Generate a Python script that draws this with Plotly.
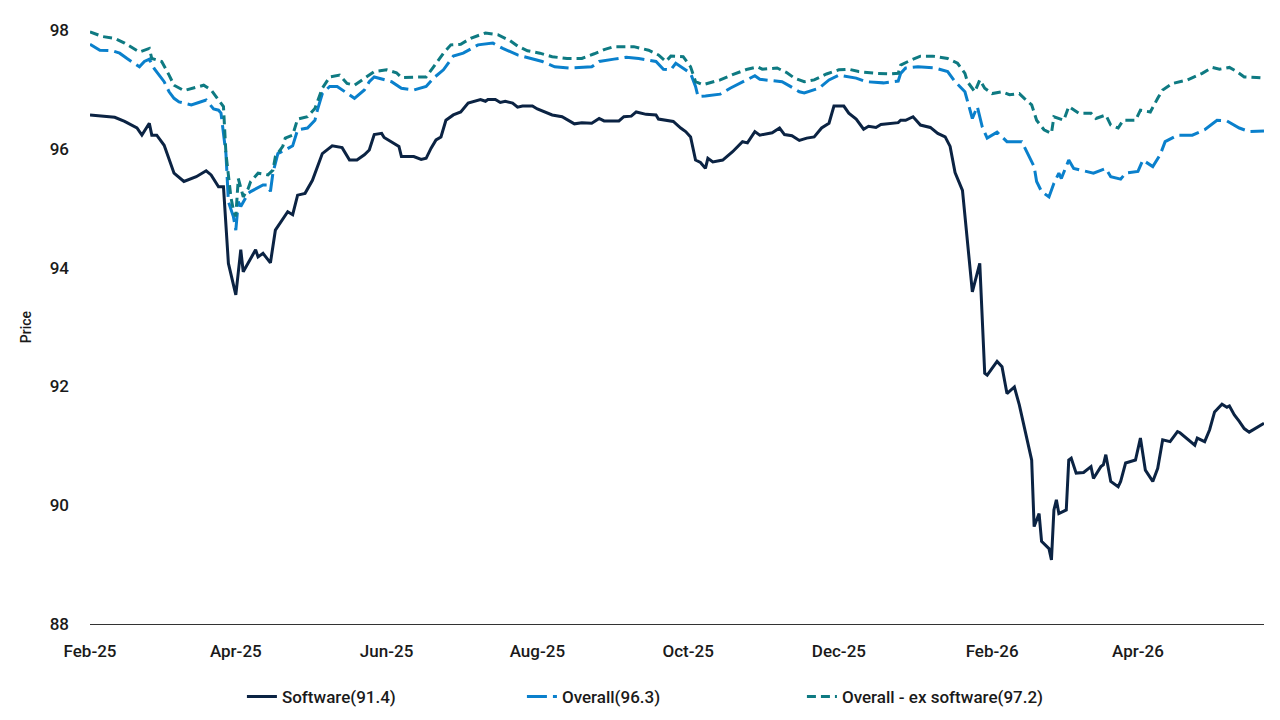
import plotly.graph_objects as go

# ---------------- data ----------------
software_dates = [
    "2025-02-01", "2025-02-07", "2025-02-11", "2025-02-15", "2025-02-20", "2025-02-22", "2025-02-25",
    "2025-02-26", "2025-02-28", "2025-03-03", "2025-03-05", "2025-03-07", "2025-03-11", "2025-03-14",
    "2025-03-16", "2025-03-20", "2025-03-22", "2025-03-25", "2025-03-27", "2025-03-29", "2025-04-01",
    "2025-04-03", "2025-04-04", "2025-04-09", "2025-04-10", "2025-04-12", "2025-04-15", "2025-04-17",
    "2025-04-22", "2025-04-24", "2025-04-26", "2025-04-29", "2025-05-02", "2025-05-06", "2025-05-10",
    "2025-05-14", "2025-05-17", "2025-05-20", "2025-05-23", "2025-05-25", "2025-05-27", "2025-05-30",
    "2025-05-31", "2025-06-06", "2025-06-07", "2025-06-12", "2025-06-15", "2025-06-17", "2025-06-19",
    "2025-06-21", "2025-06-23", "2025-06-25", "2025-06-28", "2025-07-01", "2025-07-04", "2025-07-09",
    "2025-07-11", "2025-07-12", "2025-07-15", "2025-07-17", "2025-07-19", "2025-07-22", "2025-07-24",
    "2025-07-26", "2025-07-30", "2025-08-01", "2025-08-03", "2025-08-07", "2025-08-11", "2025-08-16",
    "2025-08-19", "2025-08-23", "2025-08-26", "2025-08-28", "2025-09-03", "2025-09-05", "2025-09-08",
    "2025-09-10", "2025-09-14", "2025-09-18", "2025-09-19", "2025-09-22", "2025-09-25", "2025-09-28",
    "2025-09-30", "2025-10-02", "2025-10-04", "2025-10-06", "2025-10-08", "2025-10-09", "2025-10-11",
    "2025-10-15", "2025-10-19", "2025-10-23", "2025-10-25", "2025-10-28", "2025-10-30", "2025-11-04",
    "2025-11-07", "2025-11-09", "2025-11-12", "2025-11-15", "2025-11-18", "2025-11-21", "2025-11-24",
    "2025-11-27", "2025-11-29", "2025-12-03", "2025-12-05", "2025-12-08", "2025-12-11", "2025-12-13",
    "2025-12-16", "2025-12-18", "2025-12-22", "2025-12-25", "2025-12-26", "2025-12-28", "2025-12-31",
    "2026-01-03", "2026-01-07", "2026-01-10", "2026-01-13", "2026-01-15", "2026-01-17", "2026-01-20",
    "2026-01-24", "2026-01-27", "2026-01-29", "2026-01-30", "2026-02-03", "2026-02-05", "2026-02-07",
    "2026-02-10", "2026-02-12", "2026-02-17", "2026-02-18", "2026-02-20", "2026-02-21", "2026-02-24",
    "2026-02-25", "2026-02-26", "2026-02-27", "2026-02-28", "2026-03-03", "2026-03-04", "2026-03-05",
    "2026-03-07", "2026-03-10", "2026-03-13", "2026-03-14", "2026-03-17", "2026-03-18", "2026-03-19",
    "2026-03-21", "2026-03-24", "2026-03-25", "2026-03-27", "2026-03-31", "2026-04-02", "2026-04-04",
    "2026-04-07", "2026-04-09", "2026-04-11", "2026-04-14", "2026-04-17", "2026-04-18", "2026-04-22",
    "2026-04-24", "2026-04-25", "2026-04-28", "2026-04-30", "2026-05-02", "2026-05-05", "2026-05-07",
    "2026-05-08", "2026-05-10", "2026-05-12", "2026-05-14", "2026-05-16", "2026-05-22",
]
software_values = [
    96.57, 96.54, 96.53, 96.46, 96.35, 96.23, 96.43,
    96.23, 96.23, 96.06, 95.84, 95.59, 95.45, 95.50,
    95.53, 95.63, 95.56, 95.36, 95.36, 94.07, 93.54,
    94.30, 93.93, 94.30, 94.18, 94.24, 94.08, 94.63,
    94.94, 94.89, 95.22, 95.25, 95.47, 95.92, 96.05,
    96.02, 95.81, 95.81, 95.90, 95.98, 96.24, 96.26,
    96.19, 96.04, 95.87, 95.87, 95.82, 95.84, 96.01,
    96.15, 96.20, 96.48, 96.57, 96.62, 96.77, 96.83,
    96.80, 96.83, 96.83, 96.78, 96.80, 96.77, 96.70,
    96.72, 96.72, 96.67, 96.64, 96.57, 96.54, 96.42,
    96.44, 96.43, 96.51, 96.47, 96.47, 96.54, 96.55,
    96.62, 96.58, 96.57, 96.50, 96.48, 96.46, 96.35,
    96.29, 96.20, 95.81, 95.77, 95.67, 95.84, 95.78,
    95.81, 95.95, 96.12, 96.10, 96.29, 96.23, 96.27,
    96.35, 96.24, 96.22, 96.14, 96.18, 96.20, 96.35,
    96.43, 96.72, 96.72, 96.60, 96.50, 96.33, 96.38,
    96.36, 96.41, 96.42, 96.44, 96.48, 96.48, 96.54,
    96.40, 96.36, 96.26, 96.20, 96.04, 95.60, 95.30,
    93.59, 94.07, 92.22, 92.19, 92.42, 92.33, 91.88,
    91.99, 91.69, 90.76, 89.64, 89.86, 89.39, 89.27,
    89.08, 89.92, 90.09, 89.86, 89.92, 90.76, 90.79,
    90.54, 90.55, 90.65, 90.45, 90.65, 90.68, 90.85,
    90.40, 90.31, 90.40, 90.71, 90.76, 91.13, 90.59,
    90.40, 90.62, 91.10, 91.07, 91.24, 91.22, 91.07,
    91.01, 91.13, 91.07, 91.27, 91.57, 91.70, 91.65,
    91.67, 91.52, 91.41, 91.29, 91.23, 91.38,
]

overall_dates = [
    "2025-02-01", "2025-02-05", "2025-02-10", "2025-02-13", "2025-02-16", "2025-02-21", "2025-02-23",
    "2025-02-25", "2025-02-27", "2025-03-03", "2025-03-05", "2025-03-07", "2025-03-09", "2025-03-14",
    "2025-03-17", "2025-03-20", "2025-03-23", "2025-03-25", "2025-03-26", "2025-03-28", "2025-03-29",
    "2025-03-31", "2025-04-01", "2025-04-02", "2025-04-03", "2025-04-05", "2025-04-06", "2025-04-07",
    "2025-04-12", "2025-04-14", "2025-04-15", "2025-04-16", "2025-04-18", "2025-04-21", "2025-04-24",
    "2025-04-26", "2025-04-30", "2025-05-03", "2025-05-04", "2025-05-06", "2025-05-09", "2025-05-12",
    "2025-05-14", "2025-05-19", "2025-05-23", "2025-05-25", "2025-05-27", "2025-05-31", "2025-06-03",
    "2025-06-07", "2025-06-12", "2025-06-17", "2025-06-20", "2025-06-24", "2025-06-28", "2025-07-02",
    "2025-07-08", "2025-07-14", "2025-07-18", "2025-07-24", "2025-07-30", "2025-08-03", "2025-08-08",
    "2025-08-14", "2025-08-23", "2025-08-26", "2025-09-01", "2025-09-06", "2025-09-11", "2025-09-18",
    "2025-09-21", "2025-09-24", "2025-09-26", "2025-10-02", "2025-10-04", "2025-10-05", "2025-10-08",
    "2025-10-14", "2025-10-18", "2025-10-23", "2025-10-28", "2025-10-30", "2025-11-02", "2025-11-08",
    "2025-11-11", "2025-11-15", "2025-11-17", "2025-11-23", "2025-11-27", "2025-12-01", "2025-12-08",
    "2025-12-12", "2025-12-19", "2025-12-25", "2025-12-26", "2025-12-28", "2026-01-02", "2026-01-09",
    "2026-01-14", "2026-01-17", "2026-01-21", "2026-01-23", "2026-01-24", "2026-01-26", "2026-01-28",
    "2026-01-30", "2026-02-03", "2026-02-07", "2026-02-13", "2026-02-18", "2026-02-19", "2026-02-21",
    "2026-02-24", "2026-02-26", "2026-02-28", "2026-03-01", "2026-03-04", "2026-03-06", "2026-03-09",
    "2026-03-14", "2026-03-19", "2026-03-21", "2026-03-25", "2026-03-27", "2026-04-01", "2026-04-03",
    "2026-04-07", "2026-04-10", "2026-04-12", "2026-04-17", "2026-04-23", "2026-04-28", "2026-05-03",
    "2026-05-07", "2026-05-12", "2026-05-16", "2026-05-22",
]
overall_values = [
    97.76, 97.66, 97.65, 97.61, 97.52, 97.38, 97.47,
    97.51, 97.35, 97.13, 96.96, 96.85, 96.79, 96.74,
    96.78, 96.82, 96.67, 96.65, 96.60, 95.92, 95.11,
    94.86, 94.63, 95.11, 95.03, 95.19, 95.25, 95.28,
    95.39, 95.39, 95.28, 95.59, 95.92, 95.98, 96.05,
    96.32, 96.35, 96.48, 96.65, 96.93, 97.05, 97.05,
    96.99, 96.85, 96.99, 97.13, 97.21, 97.16, 97.13,
    97.02, 96.99, 97.05, 97.19, 97.33, 97.56, 97.61,
    97.75, 97.78, 97.69, 97.58, 97.52, 97.47, 97.38,
    97.36, 97.38, 97.47, 97.51, 97.54, 97.52, 97.47,
    97.34, 97.33, 97.44, 97.27, 97.05, 96.88, 96.89,
    96.92, 97.02, 97.13, 97.23, 97.17, 97.16, 97.13,
    97.06, 96.96, 96.94, 97.02, 97.16, 97.24, 97.19,
    97.13, 97.11, 97.14, 97.27, 97.36, 97.38, 97.36,
    97.30, 97.13, 96.96, 96.65, 96.51, 96.71, 96.37,
    96.18, 96.28, 96.12, 96.12, 95.70, 95.45, 95.28,
    95.19, 95.42, 95.59, 95.50, 95.81, 95.67, 95.64,
    95.59, 95.67, 95.53, 95.49, 95.59, 95.62, 95.81,
    95.70, 95.90, 96.12, 96.23, 96.23, 96.32, 96.48,
    96.47, 96.35, 96.29, 96.30,
]

ex_software_dates = [
    "2025-02-01", "2025-02-06", "2025-02-11", "2025-02-15", "2025-02-21", "2025-02-25", "2025-02-26",
    "2025-03-02", "2025-03-05", "2025-03-07", "2025-03-11", "2025-03-15", "2025-03-19", "2025-03-22",
    "2025-03-25", "2025-03-27", "2025-03-28", "2025-03-30", "2025-03-31", "2025-04-01", "2025-04-02",
    "2025-04-04", "2025-04-06", "2025-04-07", "2025-04-10", "2025-04-14", "2025-04-16", "2025-04-17",
    "2025-04-20", "2025-04-21", "2025-04-24", "2025-04-26", "2025-04-30", "2025-05-03", "2025-05-06",
    "2025-05-09", "2025-05-13", "2025-05-16", "2025-05-19", "2025-05-22", "2025-05-25", "2025-05-27",
    "2025-06-01", "2025-06-05", "2025-06-07", "2025-06-12", "2025-06-17", "2025-06-20", "2025-06-24",
    "2025-06-27", "2025-07-01", "2025-07-05", "2025-07-11", "2025-07-16", "2025-07-21", "2025-07-24",
    "2025-07-28", "2025-08-02", "2025-08-07", "2025-08-13", "2025-08-19", "2025-08-24", "2025-08-28",
    "2025-09-01", "2025-09-09", "2025-09-15", "2025-09-19", "2025-09-22", "2025-09-24", "2025-09-29",
    "2025-10-02", "2025-10-04", "2025-10-07", "2025-10-14", "2025-10-19", "2025-10-25", "2025-10-29",
    "2025-10-31", "2025-11-06", "2025-11-10", "2025-11-13", "2025-11-17", "2025-11-21", "2025-11-26",
    "2025-12-01", "2025-12-05", "2025-12-09", "2025-12-16", "2025-12-22", "2025-12-25", "2025-12-26",
    "2025-12-30", "2026-01-03", "2026-01-08", "2026-01-14", "2026-01-18", "2026-01-21", "2026-01-22",
    "2026-01-25", "2026-01-27", "2026-01-29", "2026-02-01", "2026-02-05", "2026-02-08", "2026-02-12",
    "2026-02-14", "2026-02-17", "2026-02-19", "2026-02-22", "2026-02-25", "2026-02-26", "2026-03-02",
    "2026-03-04", "2026-03-08", "2026-03-13", "2026-03-15", "2026-03-19", "2026-03-21", "2026-03-24",
    "2026-03-26", "2026-03-31", "2026-04-02", "2026-04-06", "2026-04-09", "2026-04-11", "2026-04-15",
    "2026-04-21", "2026-04-27", "2026-05-01", "2026-05-04", "2026-05-08", "2026-05-11", "2026-05-14",
    "2026-05-19", "2026-05-22",
]
ex_software_values = [
    97.97, 97.89, 97.86, 97.78, 97.63, 97.69, 97.52,
    97.47, 97.24, 97.07, 96.98, 97.02, 97.07, 96.99,
    96.82, 96.71, 95.92, 95.19, 94.97, 94.86, 95.50,
    95.19, 95.33, 95.45, 95.59, 95.56, 95.64, 95.87,
    96.04, 96.18, 96.23, 96.50, 96.54, 96.68, 97.02,
    97.21, 97.24, 97.10, 97.07, 97.16, 97.24, 97.30,
    97.33, 97.28, 97.20, 97.20, 97.21, 97.38, 97.61,
    97.75, 97.76, 97.86, 97.95, 97.92, 97.82, 97.73,
    97.65, 97.61, 97.55, 97.52, 97.52, 97.60, 97.67,
    97.72, 97.72, 97.66, 97.58, 97.47, 97.56, 97.55,
    97.38, 97.13, 97.08, 97.16, 97.25, 97.34, 97.38,
    97.34, 97.36, 97.28, 97.19, 97.13, 97.16, 97.26,
    97.33, 97.34, 97.30, 97.27, 97.26, 97.27, 97.41,
    97.49, 97.56, 97.56, 97.52, 97.44, 97.27, 97.13,
    96.96, 97.16, 97.02, 96.93, 96.96, 96.91, 96.93,
    96.85, 96.74, 96.48, 96.32, 96.26, 96.54, 96.48,
    96.71, 96.60, 96.60, 96.51, 96.57, 96.40, 96.35,
    96.48, 96.48, 96.65, 96.62, 96.85, 96.99, 97.10,
    97.16, 97.27, 97.37, 97.34, 97.37, 97.30, 97.21,
    97.20, 97.19,
]

series_names = ["Software(91.4)", "Overall(96.3)", "Overall - ex software(97.2)"]
y_ticks = [88, 90, 92, 94, 96, 98]

# ---------------- figure ----------------
FONT = "Roboto, 'Liberation Sans Narrow', Arial, sans-serif"
TXT = "#1a1a1a"

fig = go.Figure()
fig.add_trace(go.Scatter(
    x=software_dates, y=software_values, name=series_names[0], mode="lines",
    line=dict(color="#0b2343", width=3),
))
fig.add_trace(go.Scatter(
    x=overall_dates, y=overall_values, name=series_names[1], mode="lines",
    line=dict(color="#0a80cc", width=3, dash="20px,6px"),
))
fig.add_trace(go.Scatter(
    x=ex_software_dates, y=ex_software_values, name=series_names[2], mode="lines",
    line=dict(color="#0e7a82", width=3, dash="9px,5px"),
))

fig.update_layout(
    width=1280, height=720,
    margin=dict(l=90, r=16, t=30, b=96),
    paper_bgcolor="white", plot_bgcolor="white",
    font=dict(family=FONT, size=17, color=TXT, weight=500),
    showlegend=True,
    legend=dict(
        orientation="h", xref="container", yref="container",
        x=0.189, xanchor="left", y=0.032, yanchor="middle",
        entrywidth=235, entrywidthmode="pixels",
        font=dict(family=FONT, size=17, color=TXT, weight=500),
        bgcolor="rgba(0,0,0,0)",
    ),
    hovermode=False,
)
fig.update_xaxes(
    type="date",
    range=["2025-02-01", "2026-05-22"],
    tick0="2025-02-01", dtick="M2", tickformat="%b-%y",
    showgrid=False, zeroline=False,
    showline=True, linecolor="#333333", linewidth=1,
    ticks="", ticklabelstandoff=12,
    tickfont=dict(family=FONT, size=17, color=TXT, weight=500),
)
fig.update_yaxes(
    range=[88, 98], tickvals=y_ticks,
    showgrid=False, zeroline=False, showline=False,
    ticks="", ticklabelstandoff=20,
    tickfont=dict(family=FONT, size=17, color=TXT, weight=500),
    title=dict(text="Price", font=dict(family=FONT, size=14, color=TXT, weight=500), standoff=14),
)

fig.write_html("out.html")
